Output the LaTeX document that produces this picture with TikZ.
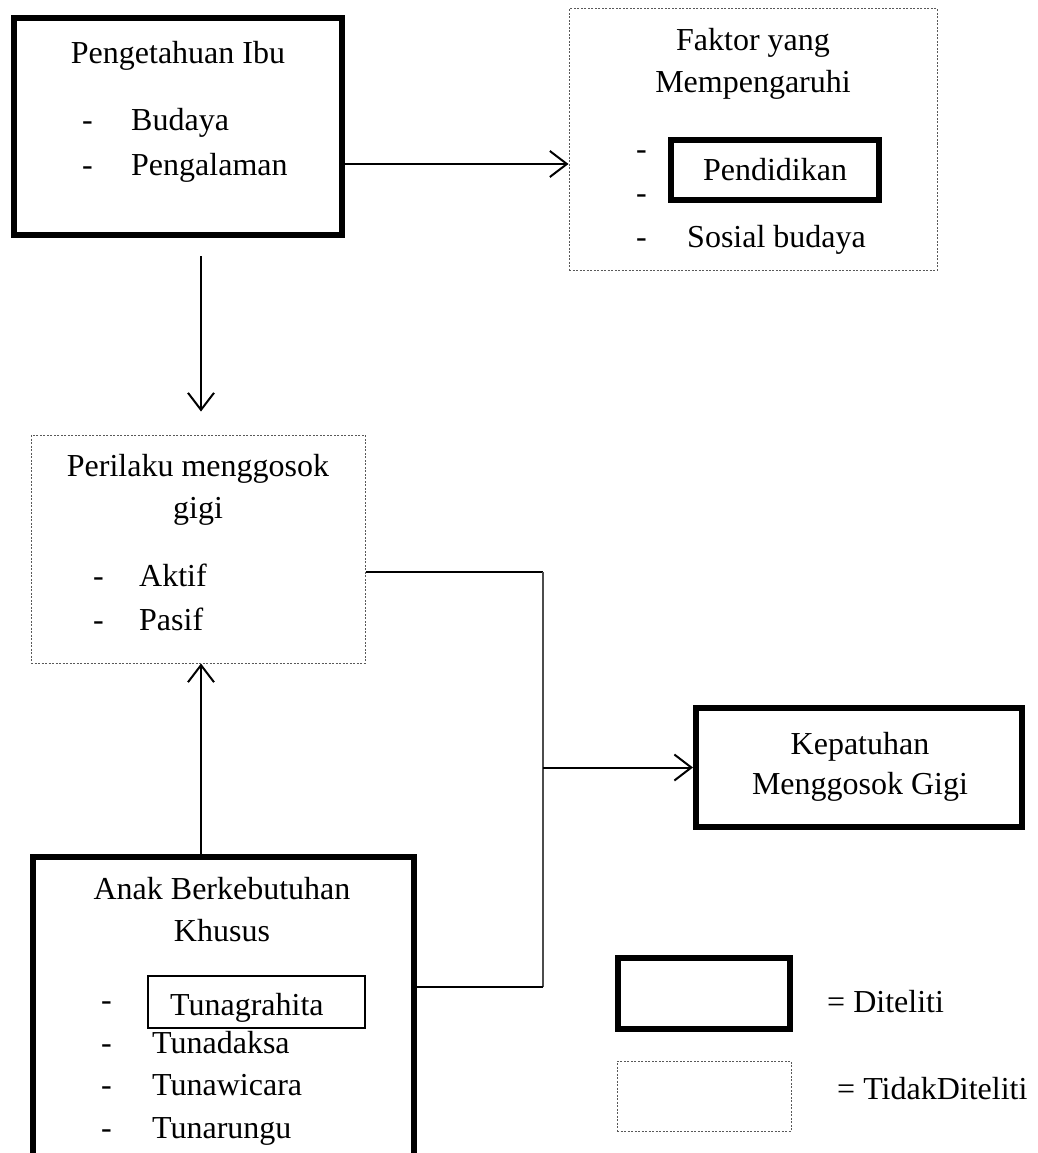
\documentclass[tikz,border=0pt]{standalone}
\usepackage{fontspec}
\setmainfont{Liberation Serif}
\usetikzlibrary{arrows.meta}

\begin{document}
\begin{tikzpicture}[x=1pt,y=-1pt,
        font=\fontsize{32}{40}\selectfont,
        thickbox/.style={draw,line width=6pt,inner sep=0pt},
        dotbox/.style={draw,gray!70!black,line width=1pt,dash pattern=on 2pt off 1.5pt,inner sep=0pt},
        thinbox/.style={draw,line width=1.5pt,inner sep=0pt},
        title/.style={anchor=base,inner sep=0pt},
        item/.style={anchor=base west,inner sep=0pt},
        arr/.style={-{Straight Barb[length=17pt,width=26pt]},line width=2pt},
        conn/.style={line width=2pt}]
        \useasboundingbox (0,0) rectangle (1037,1153);
        \clip (0,0) rectangle (1037,1153);

        % boxes
        \node[thickbox,minimum width=328pt,minimum height=217pt] (ibu) at (178,126.5) {};
        \node[dotbox,minimum width=368pt,minimum height=261pt] (faktor) at (753,139.5) {};
        \node[dotbox,minimum width=334pt,minimum height=228pt] (perilaku) at (198,549) {};
        \node[thickbox,minimum width=326pt,minimum height=119pt] (patuh) at (859,767.5) {};
        \node[thickbox,minimum width=381pt,minimum height=301pt] (anak) at (223.5,1007.5) {};

        % Pengetahuan Ibu
        \node[title] at (178,64) {Pengetahuan Ibu};
        \node[item] at (82,131) {-};
        \node[item] (budaya) at (131,131) {Budaya};
        \node[item] at (82,175) {-};
        \node[item] (pengalaman) at (131,175) {Pengalaman};

        % Faktor yang Mempengaruhi
        \node[title] at (753,51) {Faktor yang};
        \node[title] at (753,93) {Mempengaruhi};
        \node[item] at (636,159) {-};
        \node[item] at (636,203) {-};
        \node[item] at (636,247) {-};
        \node[thickbox,minimum width=208pt,minimum height=60.5pt] (pendidikan) at (775,170) {Pendidikan};
        \node[item] (sosial) at (687,247) {Sosial budaya};

        % Perilaku menggosok gigi
        \node[title] at (198,476) {Perilaku menggosok};
        \node[title] at (198,518) {gigi};
        \node[item] at (93,586) {-};
        \node[item] (aktif) at (139,586) {Aktif};
        \node[item] at (93,630) {-};
        \node[item] (pasif) at (139,630) {Pasif};

        % Kepatuhan
        \node[title] at (860,754) {Kepatuhan};
        \node[title] at (860,794) {Menggosok Gigi};

        % Anak Berkebutuhan Khusus
        \node[title] at (222,899) {Anak Berkebutuhan};
        \node[title] at (222,941) {Khusus};
        \node[thinbox,minimum width=217pt,minimum height=52pt] (tgbox) at (256.5,1002) {};
        \node[item] at (101,1010) {-};
        \node[item] (tunagrahita) at (170,1015) {Tunagrahita};
        \node[item] at (101,1053) {-};
        \node[item] (tunadaksa) at (152,1053) {Tunadaksa};
        \node[item] at (101,1095) {-};
        \node[item] (tunawicara) at (152,1095) {Tunawicara};
        \node[item] at (101,1138) {-};
        \node[item] (tunarungu) at (152,1138) {Tunarungu};

        % legend
        \node[thickbox,minimum width=172pt,minimum height=71pt] (legA) at (704,993.5) {};
        \node[item] at (827,1012) {= Diteliti};
        \node[dotbox,minimum width=174pt,minimum height=70pt] (legB) at (704,1096) {};
        \node[item] at (837,1099) {= TidakDiteliti};

        % connectors
        \coordinate (a1) at (0,164);
        \coordinate (mid) at (201,0);
        \coordinate (jtop) at (543,572);
        \coordinate (jbot) at (543,987);

        \draw[arr] (ibu.east |- a1) -- (faktor.west |- a1);
        \draw[arr,shorten <=18pt,shorten >=23pt] (ibu.south -| mid) -- (perilaku.north -| mid);
        \draw[arr] (anak.north -| mid) -- (perilaku.south -| mid);

        \draw[conn] (perilaku.east |- jtop) -- (jtop);
        \draw[line width=1.3pt,gray!60!black] (jtop) -- (jbot);
        \draw[conn] (jbot) -- (anak.east |- jbot);
        \draw[arr] (patuh.west -| jtop) -- (patuh.west);

\end{tikzpicture}
\end{document}
